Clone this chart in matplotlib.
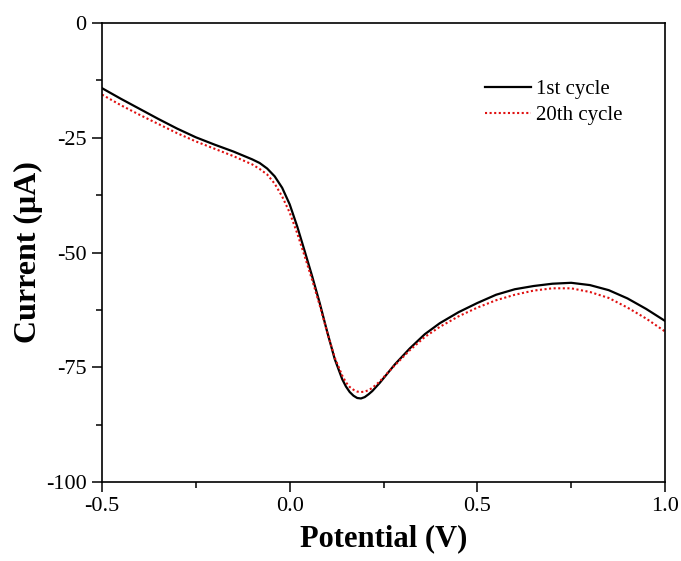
import matplotlib
matplotlib.use("Agg")
from matplotlib import pyplot as plt
from matplotlib.ticker import MultipleLocator, FormatStrFormatter

plt.rcParams['font.family'] = ['Liberation Serif', 'DejaVu Serif']

# potential (V)
potential = [-0.50, -0.45, -0.40, -0.35, -0.30, -0.25, -0.20, -0.15, -0.10, -0.08,
             -0.06, -0.04, -0.02, 0.00, 0.02, 0.04, 0.06, 0.08, 0.10, 0.12,
             0.14, 0.15, 0.16, 0.17, 0.18, 0.19, 0.20, 0.21, 0.22, 0.24,
             0.26, 0.28, 0.32, 0.36, 0.40, 0.45, 0.50, 0.55, 0.60, 0.65,
             0.70, 0.75, 0.80, 0.85, 0.90, 0.95, 1.00]

# current (uA), first cycle
cycle_1 = [-14.2, -16.5, -18.7, -20.9, -23.0, -24.9, -26.5, -28.0, -29.7, -30.5,
           -31.7, -33.4, -35.9, -39.5, -44.3, -49.7, -55.2, -61.0, -67.3, -73.2,
           -77.6, -79.2, -80.4, -81.2, -81.7, -81.8, -81.5, -80.9, -80.2, -78.4,
           -76.4, -74.4, -70.9, -67.8, -65.4, -63.0, -61.0, -59.2, -58.0, -57.3,
           -56.8, -56.6, -57.1, -58.2, -60.0, -62.3, -64.9]

# current (uA), twentieth cycle
cycle_20 = [-15.6, -17.9, -20.0, -22.0, -24.0, -25.8, -27.4, -29.0, -30.8, -31.8,
            -33.0, -35.0, -37.8, -41.3, -45.8, -50.8, -56.0, -61.5, -67.4, -72.9,
            -76.8, -78.3, -79.3, -79.9, -80.3, -80.4, -80.3, -80.0, -79.5, -78.1,
            -76.3, -74.6, -71.3, -68.4, -66.2, -63.9, -62.0, -60.4, -59.2, -58.3,
            -57.8, -57.8, -58.6, -59.9, -62.0, -64.4, -67.2]

fig = plt.figure(figsize=(6.81, 5.61), dpi=100)
ax = fig.add_axes([0.1498, 0.1408, 0.8267, 0.8182])

ax.plot(potential, cycle_1, color='black', lw=1.6, label='1st cycle')
ax.plot(potential, cycle_20, color='#e01010', lw=1.5, linestyle=(0, (1, 1.2)),
        label='20th cycle')

ax.set_xlim(-0.5, 1.0)
ax.set_ylim(-100, 0)
ax.xaxis.set_major_locator(MultipleLocator(0.5))
ax.xaxis.set_minor_locator(MultipleLocator(0.25))
ax.yaxis.set_major_locator(MultipleLocator(25))
ax.yaxis.set_minor_locator(MultipleLocator(12.5))
ax.xaxis.set_major_formatter(FormatStrFormatter('%.1f'))
ax.yaxis.set_major_formatter(FormatStrFormatter('%d'))

for s in ax.spines.values():
    s.set_linewidth(1.2)
ax.tick_params(which='major', direction='out', length=7, width=1.1,
               labelsize=16, pad=4)
ax.tick_params(which='minor', direction='out', length=4, width=1.1)
ax.tick_params(top=False, right=False, which='both')

ax.set_xlabel('Potential (V)', fontsize=22, fontweight='bold', labelpad=6)
ax.set_ylabel('Current (\u03bcA)', fontsize=23, fontweight='bold', labelpad=2)

ax.legend(loc='upper left', bbox_to_anchor=(0.665, 0.895), frameon=False,
          fontsize=15, handlelength=2.2, handletextpad=0.25, labelspacing=0.32,
          borderaxespad=0)

fig.savefig('out.png', dpi=100)
